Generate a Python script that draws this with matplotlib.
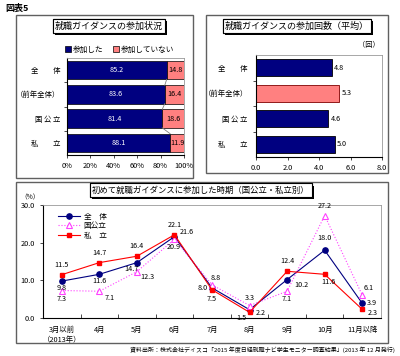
import matplotlib
matplotlib.use("Agg")
import matplotlib.pyplot as plt
from matplotlib.patches import Rectangle
import matplotlib.patheffects as pe

plt.rcParams['font.family'] = ['Noto Sans CJK JP', 'DejaVu Sans']

# データ
groups = ["全　　体", "（前年全体）", "国 公 立", "私　　立"]
attended = [85.2, 83.6, 81.4, 88.1]
not_attended = [14.8, 16.4, 18.6, 11.9]
avg_times = [4.8, 5.3, 4.6, 5.0]

months = ["3月以前\n（2013年）", "4月", "5月", "6月", "7月", "8月", "9月", "10月", "11月以降"]
all_students = [9.8, 11.6, 14.7, 21.6, 8.0, 2.2, 10.2, 18.0, 3.9]
national = [7.3, 7.1, 12.3, 20.9, 8.8, 3.3, 7.1, 27.2, 6.1]
private = [11.5, 14.7, 16.4, 22.1, 7.5, 1.5, 12.4, 11.6, 2.3]

NAVY = "#000080"
SALMON = "#FF8080"
MAGENTA = "#FF40FF"
RED = "#FF0000"

W, H = 400, 356
fig = plt.figure(figsize=(W / 100, H / 100), dpi=100)


def fr(x0, y0, x1, y1):
    # ピクセル座標(上から) -> figure座標
    return [x0 / W, 1 - y1 / H, (x1 - x0) / W, (y1 - y0) / H]


def panel(x0, y0, x1, y1):
    fig.add_artist(Rectangle((x0 / W, 1 - y1 / H), (x1 - x0) / W, (y1 - y0) / H,
                             transform=fig.transFigure, fill=False,
                             edgecolor="#606060", lw=1.0))


def title_box(x, y, s, size=6.5):
    t = fig.text(x / W, 1 - y / H, s, ha="center", va="center", fontsize=size,
                 bbox=dict(boxstyle="square,pad=0.25", fc="white", ec="black", lw=0.8))
    t.get_bbox_patch().set_path_effects(
        [pe.withSimplePatchShadow(offset=(1.5, -1.5), shadow_rgbFace="black", alpha=1), pe.Normal()])


def frame(ax):
    for s in ["top", "right"]:
        ax.spines[s].set_color("#999999")
        ax.spines[s].set_linewidth(0.6)
    for s in ["left", "bottom"]:
        ax.spines[s].set_linewidth(0.8)


fig.text(5 / W, 1 - 8 / H, "図表5", fontsize=6.5, fontweight="bold", va="center", ha="left")

panel(16, 15, 193, 178)
panel(206, 15, 388, 173)
panel(16, 182, 388, 343)

# --- 参加状況 ---
ax1 = fig.add_axes(fr(67, 58, 184, 155))
ypos = range(len(groups))
h = 0.76
ax1.barh(ypos, attended, height=h, color=NAVY, edgecolor="black", lw=0.5)
ax1.barh(ypos, not_attended, left=attended, height=h, color=SALMON, edgecolor="black", lw=0.5)
for i in range(len(groups) - 1):
    ax1.plot([attended[i], attended[i + 1]], [i + h / 2, i + 1 - h / 2], color="#808080", lw=0.6)
for i, (a, b) in enumerate(zip(attended, not_attended)):
    ax1.text(a / 2, i, f"{a:.1f}", color="white", ha="center", va="center", fontsize=5.2)
    ax1.text(a + b / 2, i, f"{b:.1f}", color="black", ha="center", va="center", fontsize=5.2)
ax1.set_xlim(0, 100)
ax1.set_ylim(len(groups) - 0.5, -0.5)
ax1.set_yticks(list(ypos))
ax1.set_yticklabels(groups)
ax1.set_yticks([0.5, 1.5, 2.5], minor=True)
ax1.set_xticks(range(0, 101, 20))
ax1.set_xticklabels([f"{v}%" for v in range(0, 101, 20)])
ax1.tick_params(axis="y", which="major", length=0, pad=5, labelsize=5.3)
ax1.tick_params(axis="y", which="minor", length=2, width=0.5)
ax1.tick_params(axis="x", length=2, width=0.5, labelsize=5.3, pad=3)
frame(ax1)
ax1.legend(handles=[Rectangle((0, 0), 1, 1, fc=NAVY, ec="black", lw=0.5),
                    Rectangle((0, 0), 1, 1, fc=SALMON, ec="black", lw=0.5)],
           labels=["参加した", "参加していない"], loc="lower center",
           bbox_to_anchor=(0.45, 1.0), ncol=2, frameon=False, fontsize=5.5,
           handlelength=0.8, handleheight=0.8, handletextpad=0.3, columnspacing=1.2,
           borderpad=0.1)
title_box(109, 26, "就職ガイダンスの参加状況")

# --- 参加回数 ---
ax2 = fig.add_axes(fr(256, 55, 382, 157))
colors2 = [NAVY, SALMON, NAVY, NAVY]
edges2 = ["black", "#800000", "black", "black"]
ax2.barh(ypos, avg_times, height=0.66, color=colors2, edgecolor=edges2, lw=0.6)
for i, v in enumerate(avg_times):
    ax2.text(v + 0.12, i, f"{v:.1f}", ha="left", va="center", fontsize=5.2)
ax2.set_xlim(0, 8)
ax2.set_ylim(len(groups) - 0.5, -0.5)
ax2.set_yticks(list(ypos))
ax2.set_yticklabels(groups)
ax2.set_yticks([0.5, 1.5, 2.5], minor=True)
ax2.set_xticks(range(0, 9, 2))
ax2.set_xticklabels([f"{v:.1f}" for v in range(0, 9, 2)])
ax2.tick_params(axis="y", which="major", length=0, pad=6, labelsize=5.3)
ax2.tick_params(axis="y", which="minor", length=2, width=0.5)
ax2.tick_params(axis="x", length=2, width=0.5, labelsize=5.3, pad=3)
frame(ax2)
ax2.text(0.98, 1.06, "（回）", transform=ax2.transAxes, ha="right", va="bottom", fontsize=5.2)
title_box(297, 26, "就職ガイダンスの参加回数（平均）")

# --- 参加時期 ---
ax3 = fig.add_axes(fr(43, 205, 381, 318))
x = list(range(len(months)))
ax3.plot(x, all_students, color=NAVY, lw=0.8, marker="o", ms=3.8, label="全　体")
ax3.plot(x, national, color=MAGENTA, lw=0.8, ls=":", marker="^", ms=4.5,
         mfc="white", mec=MAGENTA, mew=0.8, label="国公立")
ax3.plot(x, private, color=RED, lw=0.8, marker="s", ms=3.2, label="私　立")

# ラベル位置(px, 上がマイナス)
off_all = [(0, 7), (0, 7), (-5, 6), (12, -5), (-9, 0), (11, 3), (14, 5), (0, -12), (10, 0)]
off_nat = [(0, 8), (10, 7), (10, 5), (-1, 8), (4, -7), (0, -8), (0, 8), (0, -10), (6, -7)]
off_pri = [(0, -10), (0, -10), (0, -10), (0, -10), (0, 9), (-8, 6), (0, -10), (4, 8), (10, 4)]
for series, offs in [(all_students, off_all), (national, off_nat), (private, off_pri)]:
    for xi, v, (dx, dy) in zip(x, series, offs):
        ax3.annotate(f"{v:.1f}", (xi, v), xytext=(dx * 0.72, -dy * 0.72),
                     textcoords="offset points", ha="center", va="center", fontsize=5.2)

ax3.set_xlim(-0.5, len(months) - 0.5)
ax3.set_ylim(0, 30)
ax3.set_yticks([0, 10, 20, 30])
ax3.set_yticklabels([f"{v:.1f}" for v in [0, 10, 20, 30]])
ax3.set_xticks(x)
ax3.set_xticklabels(months)
ax3.set_xticks([i + 0.5 for i in x[:-1]], minor=True)
ax3.tick_params(axis="x", which="major", length=0, pad=6, labelsize=5.3)
ax3.tick_params(axis="x", which="minor", length=3, width=0.5, direction="in")
ax3.tick_params(axis="y", length=2, width=0.5, labelsize=5.3, pad=4)
frame(ax3)
ax3.text(-0.01, 1.03, "（%）", transform=ax3.transAxes, ha="right", va="bottom", fontsize=4.8)
ax3.legend(loc="upper left", bbox_to_anchor=(0.03, 0.98), frameon=False, fontsize=5.5,
           handlelength=2.8, handletextpad=0.5, labelspacing=0.2, borderpad=0.2)
title_box(201, 190, "初めて就職ガイダンスに参加した時期（国公立・私立別）", size=6)

fig.text(395 / W, 1 - 350 / H,
         "資料出所：株式会社ディスコ「2015 年度日経就職ナビ学生モニター調査結果」(2013 年 12 月発行)",
         ha="right", va="center", fontsize=4.3)

fig.savefig("out.png", dpi=100)
